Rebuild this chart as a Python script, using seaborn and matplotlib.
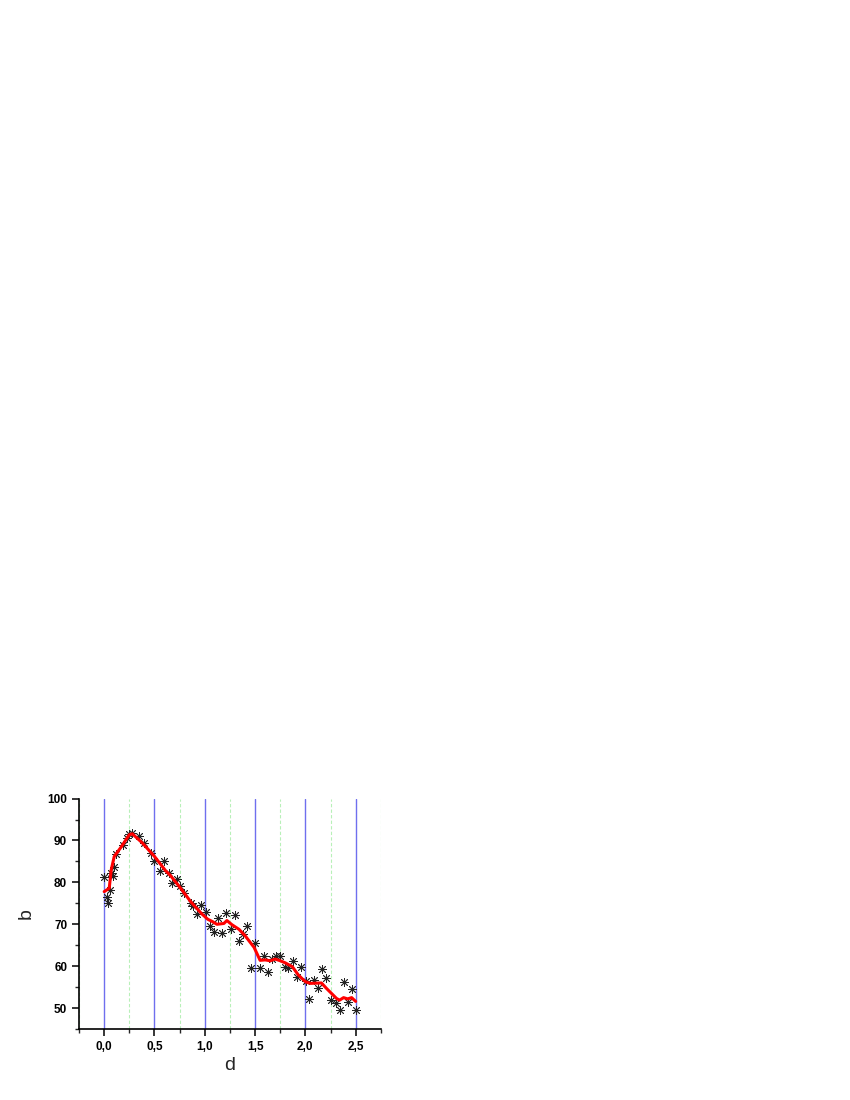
import numpy as np
import pandas as pd
import matplotlib
matplotlib.use("Agg")
import matplotlib.pyplot as plt
from matplotlib.ticker import MultipleLocator, FuncFormatter
import seaborn as sns

# measured points (asterisks)
d_pts = [0.00, 0.03, 0.04, 0.056, 0.07, 0.086, 0.096, 0.12, 0.19, 0.23,
         0.25, 0.28, 0.35, 0.40, 0.47, 0.50, 0.55, 0.59, 0.64, 0.67,
         0.72, 0.755, 0.79, 0.86, 0.88, 0.92, 0.96, 1.01, 1.05, 1.09,
         1.13, 1.17, 1.21, 1.26, 1.30, 1.34, 1.38, 1.42, 1.46, 1.50,
         1.55, 1.59, 1.63, 1.67, 1.71, 1.75, 1.80, 1.83, 1.88, 1.92,
         1.96, 2.01, 2.04, 2.09, 2.13, 2.17, 2.21, 2.25, 2.30, 2.34,
         2.38, 2.42, 2.46, 2.50]
b_pts = [81.3, 76.5, 75.2, 78.2, 82.2, 81.6, 83.7, 86.8, 89.0, 90.7,
         91.6, 91.9, 91.0, 89.4, 87.0, 85.2, 82.8, 85.2, 82.2, 79.8,
         80.8, 79.2, 77.4, 75.0, 74.4, 72.5, 74.6, 73.0, 69.5, 68.1,
         71.5, 67.9, 72.8, 68.9, 72.2, 65.9, 67.6, 69.6, 59.6, 65.5,
         59.5, 62.4, 58.5, 61.7, 62.5, 62.5, 59.9, 59.5, 61.2, 57.5,
         59.7, 56.5, 52.2, 56.7, 54.7, 59.3, 57.3, 51.9, 51.3, 49.5,
         56.3, 51.4, 54.5, 49.5]

# smoothed curve (red)
d_line = [0.00, 0.05, 0.07, 0.10, 0.17, 0.25, 0.28, 0.38, 0.50, 0.61,
          0.66, 0.76, 0.86, 0.97, 1.03, 1.08, 1.12, 1.19, 1.22, 1.27,
          1.34, 1.40, 1.49, 1.55, 1.60, 1.65, 1.70, 1.75, 1.80, 1.87,
          1.93, 2.00, 2.05, 2.16, 2.21, 2.26, 2.31, 2.34, 2.38, 2.42,
          2.46, 2.50]
b_line = [77.8, 78.6, 83.0, 86.2, 88.5, 91.4, 91.6, 89.4, 86.2, 82.8,
          81.6, 78.6, 75.4, 72.5, 71.2, 70.6, 70.0, 70.2, 70.9, 69.9,
          68.8, 67.3, 64.5, 61.4, 61.5, 61.3, 61.7, 61.3, 60.8, 59.9,
          57.9, 56.3, 55.9, 56.0, 54.7, 53.5, 52.3, 51.9, 52.5, 52.2,
          52.5, 51.6]

pts = pd.DataFrame({"d": d_pts, "b": b_pts})
curve = pd.DataFrame({"d": d_line, "b": b_line})

sns.set_style("ticks")
plt.rcParams["font.family"] = ["Liberation Sans", "DejaVu Sans"]

fig = plt.figure(figsize=(8.5, 11), dpi=100)
ax = fig.add_axes([0.093, 0.0645, 0.355, 0.2095])

ax.xaxis.set_major_locator(MultipleLocator(0.5))
ax.xaxis.set_minor_locator(MultipleLocator(0.25))
ax.yaxis.set_major_locator(MultipleLocator(10))
ax.yaxis.set_minor_locator(MultipleLocator(5))

# origin-style vertical grid: blue major, light green dashed minor
ax.grid(which="major", axis="x", color="#6f6fee", linewidth=1.0, linestyle="-")
ax.grid(which="minor", axis="x", color="#b8f0b8", linewidth=0.8, linestyle=(0, (3, 2)))
ax.set_axisbelow(True)

sns.scatterplot(data=pts, x="d", y="b", ax=ax, marker=(8, 2, 0), s=34,
                color="#222222", linewidth=0.6, edgecolor="#222222", zorder=3)
sns.lineplot(data=curve, x="d", y="b", ax=ax, color="red", linewidth=2.2,
             estimator=None, sort=False, zorder=4)

ax.set_xlim(-0.25, 2.75)
ax.set_ylim(45, 100)

ax.xaxis.set_major_formatter(FuncFormatter(lambda v, p: f"{v:.1f}".replace(".", ",")))
ax.yaxis.set_major_formatter(FuncFormatter(lambda v, p: f"{v:.0f}"))

for s in ["top", "right"]:
    ax.spines[s].set_visible(False)
for s in ["left", "bottom"]:
    ax.spines[s].set_linewidth(1.2)
    ax.spines[s].set_color("black")

ax.tick_params(which="major", direction="out", length=5, width=1.1, labelsize=8.5, colors="black")
ax.tick_params(which="minor", direction="out", length=3, width=1.0)
for lab in ax.get_xticklabels() + ax.get_yticklabels():
    lab.set_fontweight("bold")

ax.set_xlabel("d", fontsize=14, labelpad=3)
ax.set_ylabel("b", fontsize=14, labelpad=9)

fig.savefig("out.png", dpi=100)
